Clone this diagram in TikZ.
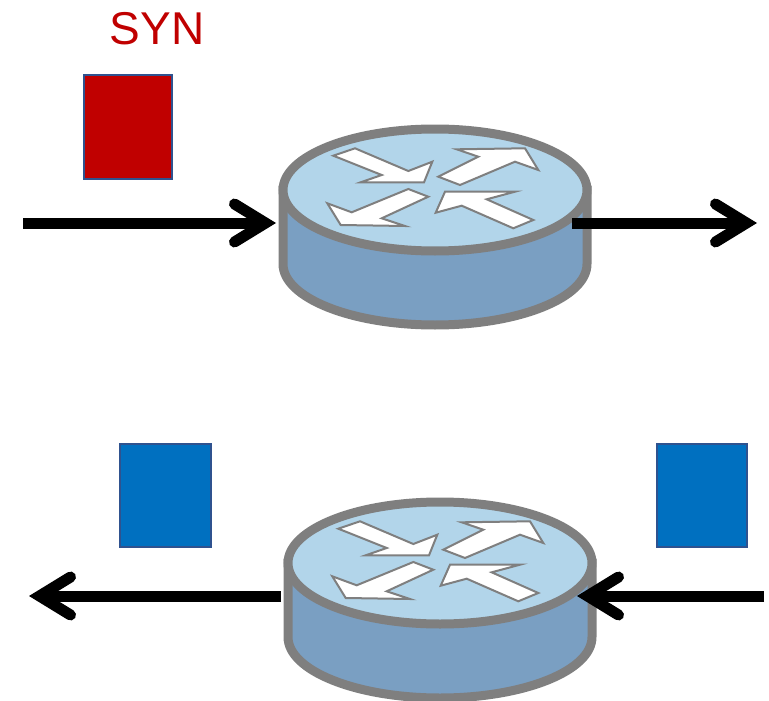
\documentclass[tikz,border=0pt]{standalone}
\usepackage{fontspec}
\setmainfont{Liberation Sans}
\usetikzlibrary{arrows.meta}
\definecolor{synred}{HTML}{C00000}
\definecolor{ackblue}{HTML}{0070C0}
\definecolor{packetedge}{HTML}{2F528F}
\definecolor{routertop}{HTML}{B2D5EA}
\definecolor{routerside}{HTML}{7A9FC2}
\definecolor{routeredge}{HTML}{7F7F7F}

\tikzset{
    packet/.style = {draw = packetedge, line width = 2pt, inner sep = 0pt, minimum width = 88pt, minimum height = 103pt},
    flow/.style = {line width = 11pt, -{Straight Barb[length = 31pt, width = 38pt, line cap = round, line join = miter]}},
    turn/.style = {draw = routeredge, fill = white, line width = 2pt, line join = miter},
    routericon/.pic = {
        \path[draw = routeredge, fill = routerside, line width = 9pt]
            (-152,0) -- (-152,74) arc [start angle = 180, end angle = 0, x radius = 152, y radius = 61] -- (152,0) -- cycle;
        \path[draw = routeredge, fill = routertop, line width = 9pt]
            (0,0) ellipse [x radius = 152, y radius = 61];
        \path[turn] (-101.7,-34.3) -- (-80,-41.7) -- (-26.7,-19) -- (-2.7,-28.3) -- (-11,-7.7) -- (-74.3,-7.7) -- (-53.3,-15) -- cycle;
        \path[turn] (3.3,-13.3) -- (25,-5) -- (80,-28.3) -- (103.3,-20) -- (90,-41.7) -- (21.7,-40.7) -- (43.3,-33.3) -- cycle;
        \path[turn] (-6.7,6.7) -- (-26.7,-1) -- (-83.3,22.3) -- (-107.7,13.3) -- (-94.3,35) -- (-30,36) -- (-53.3,28.3) -- cycle;
        \path[turn] (0.7,22.7) -- (10,1.7) -- (80,1.7) -- (51.7,9.3) -- (98.3,30) -- (78.3,38.3) -- (26.7,15.7) -- cycle;
        \coordinate (-west) at (-159,33);
        \coordinate (-east) at (137,33);
    }
}

\begin{document}
\begin{tikzpicture}[x = 1pt, y = -1pt]
\useasboundingbox (0,0) rectangle (769,701);

% top router
\pic (routerA) at (435,190) {routericon};
\node[text = synred, font = \fontsize{46}{50}\selectfont, anchor = base] (synLabel) at (157,45) {SYN};
\node[packet, fill = synred] (synPacket) at (127.5,127) {};
\coordinate (inA) at (23,223);
\coordinate (outA) at (757,223);
\draw[flow] (inA) -- (routerA-west);
\draw[flow] (routerA-east) -- (outA);

% bottom router
\pic (routerB) at (440,563) {routericon};
\node[packet, fill = ackblue, minimum width = 91pt] (ackLeft) at (165,495.5) {};
\node[packet, fill = ackblue, minimum width = 90pt] (ackRight) at (701.5,495.5) {};
\coordinate (inB) at (764,596);
\coordinate (outB) at (29,596);
\draw[flow] (inB) -- (routerB-east);
\draw[flow] (routerB-west) -- (outB);
\end{tikzpicture}
\end{document}
